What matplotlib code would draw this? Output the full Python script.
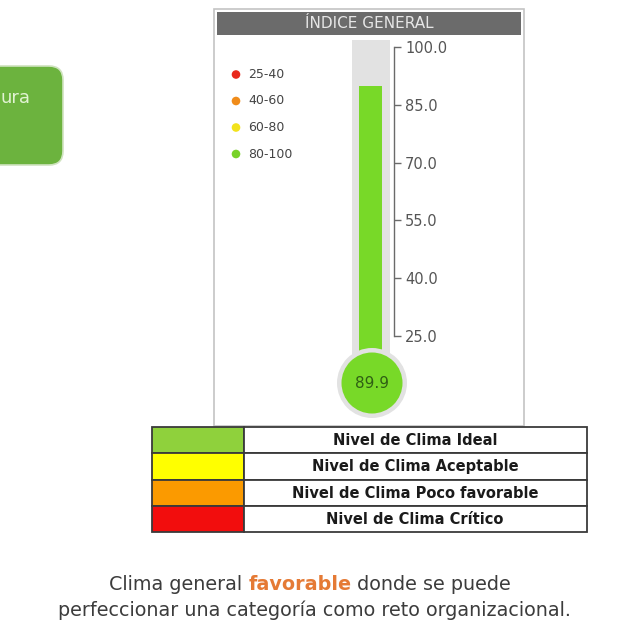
import matplotlib
matplotlib.use("Agg")
import matplotlib.pyplot as plt
from matplotlib.patches import Rectangle, FancyBboxPatch, Circle

# ---------------- data ----------------
title = "ÍNDICE GENERAL"
value = 89.9
scale_ticks = [25.0, 40.0, 55.0, 70.0, 85.0, 100.0]
legend_labels = ["25-40", "40-60", "60-80", "80-100"]
legend_colors = ["#e8291c", "#f08c1a", "#f2e21c", "#78d228"]
table_labels = ["Nivel de Clima Ideal", "Nivel de Clima Aceptable",
                "Nivel de Clima Poco favorable", "Nivel de Clima Crítico"]
table_colors = ["#8fd13c", "#ffff00", "#fb9a00", "#f20d0d"]
caption_pre = "Clima general "
caption_hl = "favorable"
caption_post = " donde se puede"
caption_line2 = "perfeccionar una categoría como reto organizacional."
side_label = "ura"

W, H = 631, 629
fig = plt.figure(figsize=(W / 100, H / 100), dpi=100)
fig.patch.set_facecolor("white")

# overlay axes in pixel coordinates
ov = fig.add_axes([0, 0, 1, 1])
ov.set_xlim(0, W)
ov.set_ylim(H, 0)
ov.axis("off")

# left green box (cut off)
ov.add_patch(FancyBboxPatch((-40, 66), 103, 99, boxstyle="round,pad=0,rounding_size=14",
                            fc="#6cb33e", ec="#cfe3bf", lw=1.2, zorder=1))
ov.text(1, 98, side_label, ha="left", va="center", color="#e2f3d3", fontsize=13,
        family="DejaVu Sans", zorder=2)

# panel
ov.add_patch(Rectangle((213.5, 8.5), 310, 417, fc="white", ec="#c4c4c4", lw=1.2, zorder=1))
ov.add_patch(Rectangle((217, 12), 304, 23, fc="#6b6b6b", ec="none", zorder=2))
ov.text(369, 24, title, ha="center", va="center", color="#e6e6e6", fontsize=11,
        family="DejaVu Sans Condensed", zorder=3)

# legend dots
for i, (lab, col) in enumerate(zip(legend_labels, legend_colors)):
    y = 74.5 + i * 26.5
    ov.add_patch(Circle((236, y), 4.3, fc=col, ec="none", zorder=3))
    ov.text(248, y, lab, ha="left", va="center", fontsize=9, color="#444444",
            family="DejaVu Sans", zorder=3)

# thermometer axes: right edge at x=394 px, y from px 40 to bulb centre
y_top_px, y_bot_px = 40, 383
px100, px25 = 47, 336
per_px = 75 / (px25 - px100)
ylim_top = 100 + (px100 - y_top_px) * per_px
ylim_bot = 25 - (y_bot_px - px25) * per_px
x0, x1 = 340, 394
ta = fig.add_axes([x0 / W, 1 - y_bot_px / H, (x1 - x0) / W, (y_bot_px - y_top_px) / H])
ta.set_xlim(x0, x1)
ta.set_ylim(ylim_bot, ylim_top)
ta.patch.set_alpha(0)
for s in ["left", "top", "bottom"]:
    ta.spines[s].set_visible(False)
ta.spines["right"].set_bounds(25, 100)
ta.spines["right"].set_color("#6a6a6a")
ta.spines["right"].set_linewidth(1.0)
ta.yaxis.tick_right()
ta.set_yticks(scale_ticks)
ta.set_yticklabels([f"{t:.1f}" for t in scale_ticks])
ta.tick_params(axis="y", direction="out", length=5, width=1.0, color="#6a6a6a",
               labelsize=10.5, labelcolor="#555555", pad=3)
for lbl in ta.get_yticklabels():
    lbl.set_family("DejaVu Sans Condensed")
ta.set_xticks([])
# tube background and fill bars
ta.bar(371, ylim_top - ylim_bot, bottom=ylim_bot, width=38, color="#e2e2e2", zorder=1)
ta.bar(370.5, value - ylim_bot, bottom=ylim_bot, width=23, color="#78d928", zorder=2)

# bulb (drawn on top of the tube, in pixel coordinates)
ta.add_patch(Circle((372, 383), 35, fc="#e2e2e2", ec="none", zorder=4,
                    transform=ov.transData, clip_on=False))
ta.add_patch(Circle((372, 383), 30.5, fc="#78d928", ec="none", zorder=5,
                    transform=ov.transData, clip_on=False))
ta.text(372, 384, f"{value:.1f}", ha="center", va="center", fontsize=11,
        color="#2f5f14", family="DejaVu Sans Condensed", zorder=6,
        transform=ov.transData, clip_on=False)

# table
tx0, tx1, tsplit = 152, 587, 244
ty0, row_h = 427, 26.25
for i, (lab, col) in enumerate(zip(table_labels, table_colors)):
    y = ty0 + i * row_h
    ov.add_patch(Rectangle((tx0, y), tsplit - tx0, row_h, fc=col, ec="#3a3a3a", lw=1.3, zorder=3))
    ov.add_patch(Rectangle((tsplit, y), tx1 - tsplit, row_h, fc="white", ec="#3a3a3a", lw=1.3, zorder=3))
    ov.text(415, y + row_h / 2 + 0.5, lab, ha="center", va="center", fontsize=10.5,
            fontweight="bold", color="#1a1a1a", family="DejaVu Sans", zorder=4)

# caption
cap_color = "#3c3c3c"
cap_fs = 13.8
fig.canvas.draw()
r = fig.canvas.get_renderer()
parts = [(caption_pre, cap_color, "normal"), (caption_hl, "#e57a35", "bold"),
         (caption_post, cap_color, "normal")]
texts = []
for s, c, w in parts:
    t = ov.text(0, 585, s, ha="left", va="center", fontsize=cap_fs, color=c,
                fontweight=w, family="DejaVu Sans")
    texts.append(t)
widths = [t.get_window_extent(r).width for t in texts]
total = sum(widths)
x = 310 - total / 2
for t, wd in zip(texts, widths):
    t.set_x(x)
    x += wd
ov.text(314, 610, caption_line2, ha="center", va="center", fontsize=cap_fs,
        color=cap_color, family="DejaVu Sans")

fig.savefig("out.png", dpi=100, facecolor="white")
